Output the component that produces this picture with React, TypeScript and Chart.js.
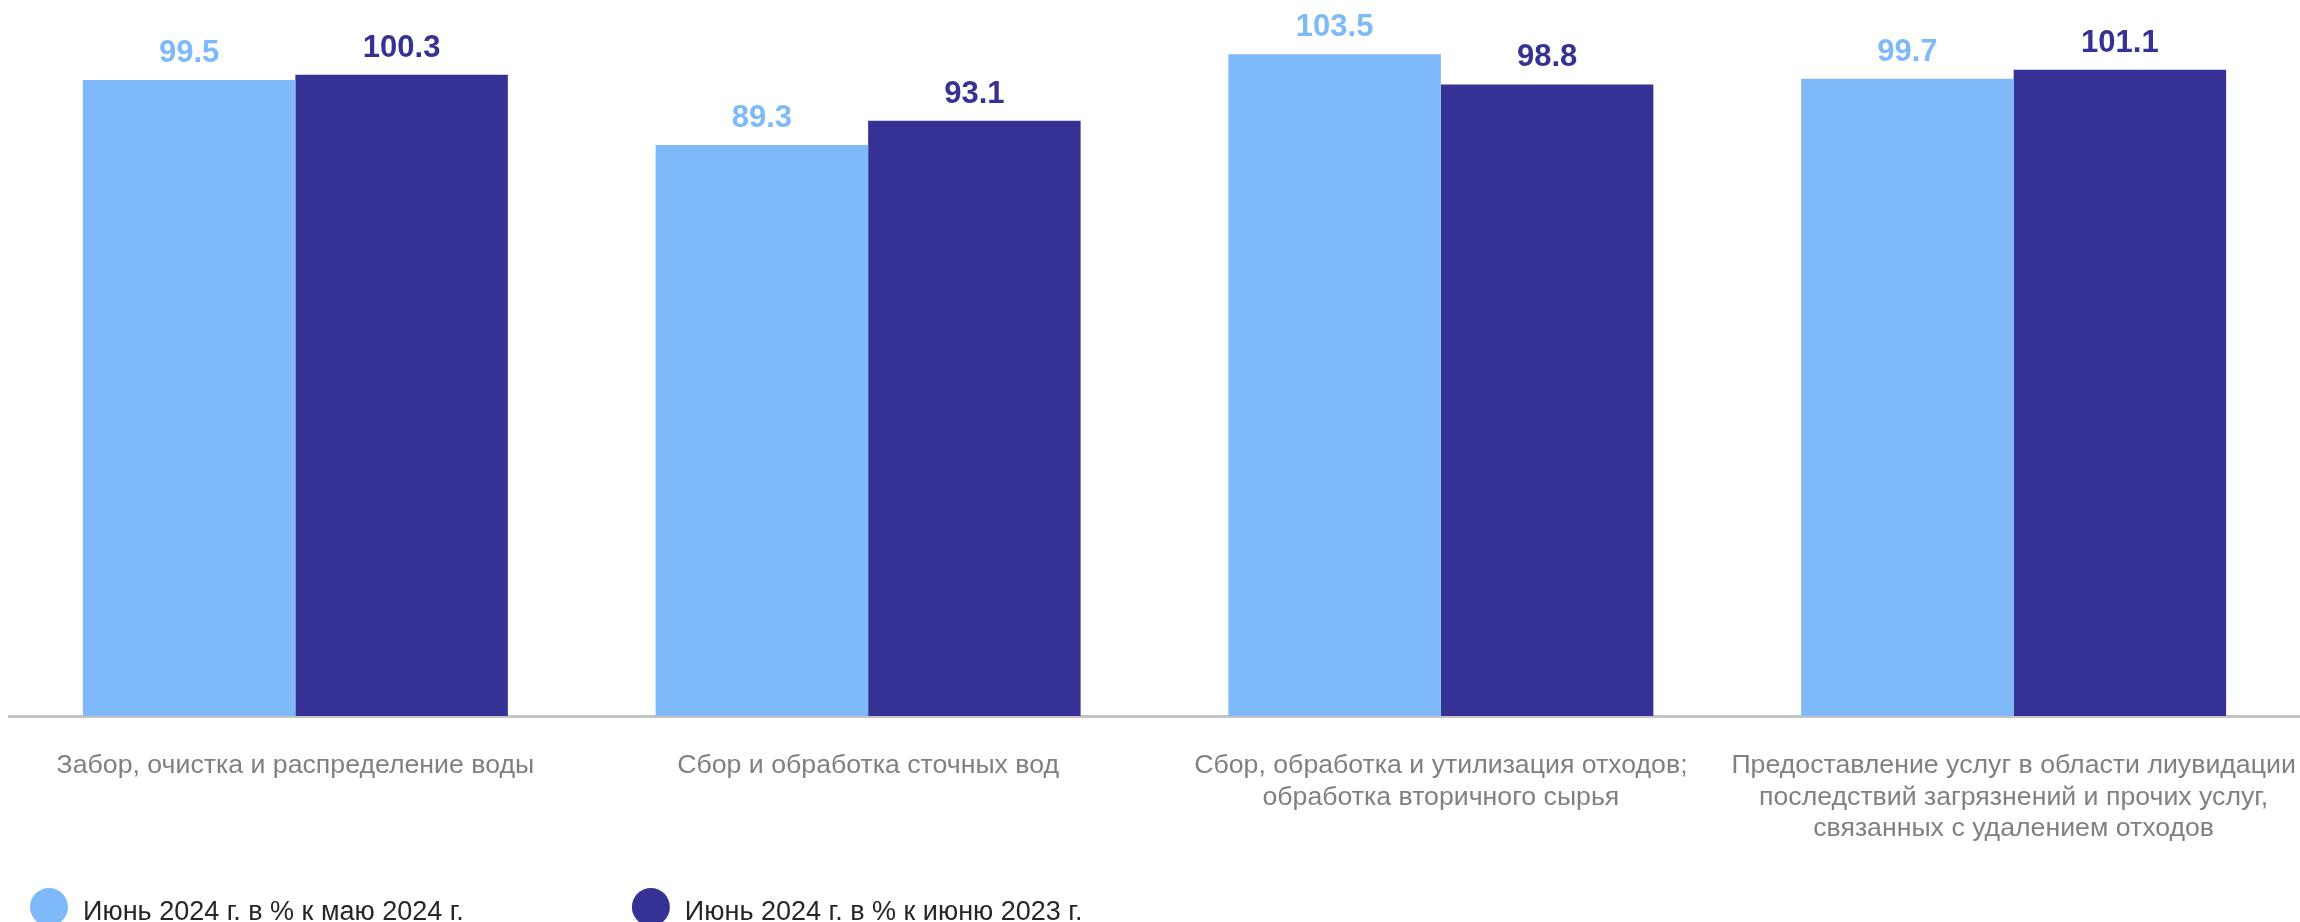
import React, { useEffect, useRef } from "react";
import { Chart, registerables } from "chart.js";

Chart.register(...registerables);

const categories: (string | string[])[] = [
  "Забор, очистка и распределение воды",
  "Сбор и обработка сточных вод",
  ["Сбор, обработка и утилизация отходов;", "обработка вторичного сырья"],
  [
    "Предоставление услуг в области лиувидации",
    "последствий загрязнений и прочих услуг,",
    "связанных с удалением отходов",
  ],
];

const seriesNames = [
  "Июнь 2024 г. в % к маю 2024 г.",
  "Июнь 2024 г. в % к июню 2023 г.",
];

const monthOverMonth = [99.5, 89.3, 103.5, 99.7];
const yearOverYear = [100.3, 93.1, 98.8, 101.1];

const LIGHT = "#7EBAFA";
const DARK = "#363295";
const FONT = "'Liberation Sans', Arial, sans-serif";

const valueLabels = {
  id: "valueLabels",
  afterDatasetsDraw(chart: any) {
    const ctx = chart.ctx;
    ctx.save();
    ctx.font = `bold 31px ${FONT}`;
    ctx.textAlign = "center";
    ctx.textBaseline = "alphabetic";
    chart.data.datasets.forEach((ds: any, i: number) => {
      const meta = chart.getDatasetMeta(i);
      ctx.fillStyle = ds.backgroundColor;
      meta.data.forEach((bar: any, j: number) => {
        const v = ds.data[j] as number;
        ctx.fillText(v.toFixed(1), bar.x, bar.y - 18);
      });
    });
    ctx.restore();
  },
};

const customLegend = {
  id: "customLegend",
  afterDraw(chart: any) {
    const ctx = chart.ctx;
    ctx.save();
    ctx.font = `27px ${FONT}`;
    ctx.textBaseline = "alphabetic";
    ctx.textAlign = "left";
    const r = 19;
    const cy = chart.height - 15;
    const textY = chart.height - 2.5;
    let x = 30; // left edge of first circle
    chart.data.datasets.forEach((ds: any) => {
      ctx.fillStyle = ds.backgroundColor;
      ctx.beginPath();
      ctx.arc(x + r, cy, r, 0, Math.PI * 2);
      ctx.fill();
      const tx = x + 2 * r + 15;
      ctx.fillStyle = "#262626";
      ctx.fillText(ds.label, tx, textY);
      const w = ctx.measureText(ds.label).width;
      x = tx + w + 168;
    });
    ctx.restore();
  },
};

export default function App() {
  const ref = useRef<HTMLCanvasElement | null>(null);

  useEffect(() => {
    if (!ref.current) return;
    const chart = new Chart(ref.current, {
      type: "bar",
      data: {
        labels: categories as any,
        datasets: [
          {
            label: seriesNames[0],
            data: monthOverMonth,
            backgroundColor: LIGHT,
            borderWidth: 0,
            categoryPercentage: 0.742,
            barPercentage: 1.0,
          },
          {
            label: seriesNames[1],
            data: yearOverYear,
            backgroundColor: DARK,
            borderWidth: 0,
            categoryPercentage: 0.742,
            barPercentage: 1.0,
          },
        ],
      },
      options: {
        animation: false,
        responsive: false,
        maintainAspectRatio: false,
        devicePixelRatio: 1,
        layout: { padding: { left: 9, right: 0, top: 0, bottom: 0 } },
        plugins: {
          legend: { display: false },
          tooltip: { enabled: false },
        },
        scales: {
          x: {
            grid: { display: false, drawTicks: false },
            border: { display: true, color: "#C4C4C4", width: 3 },
            ticks: {
              color: "#808080",
              font: { family: FONT, size: 26.7, lineHeight: 1.18 },
              padding: 34,
              maxRotation: 0,
              autoSkip: false,
            },
            afterFit(scale: any) {
              scale.height = 206;
              scale.paddingLeft = 0;
              scale.paddingRight = 0;
            },
          },
          y: {
            display: false,
            min: 0,
            max: 112,
          },
        },
      },
      plugins: [valueLabels, customLegend],
    });
    return () => chart.destroy();
  }, []);

  return (
    <div style={{ position: "absolute", left: 0, top: 0, width: 2300, height: 922, background: "#fff" }}>
      <canvas ref={ref} width={2300} height={922} style={{ display: "block", width: 2300, height: 922 }} />
    </div>
  );
}
